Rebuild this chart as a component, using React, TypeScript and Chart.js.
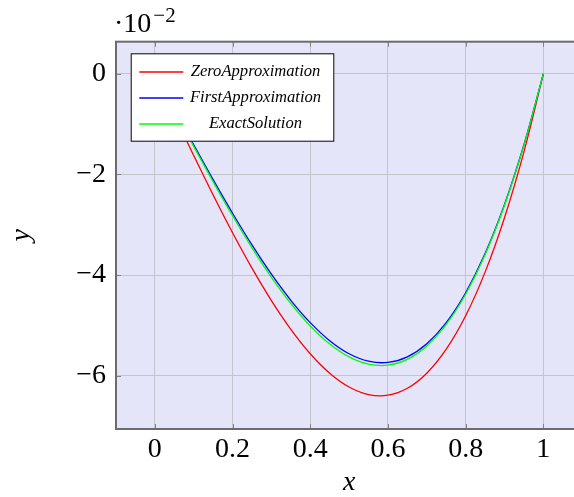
import React, { useEffect, useRef } from 'react';
import { Chart, registerables } from 'chart.js';

Chart.register(...registerables);

// ---- data (values in units of 10^-2) ----
const xValues = [0, 0.05, 0.1, 0.15, 0.2, 0.25, 0.3, 0.35, 0.4, 0.45, 0.5, 0.55, 0.6, 0.65, 0.7, 0.75, 0.8, 0.85, 0.9, 0.95, 1];
const zeroApproximation = [0, -0.816, -1.623, -2.408, -3.159, -3.863, -4.507, -5.078, -5.564, -5.95, -6.225, -6.375, -6.388, -6.251, -5.951, -5.474, -4.809, -3.941, -2.859, -1.55, 0];
const firstApproximation = [0, -0.705, -1.41, -2.103, -2.77, -3.401, -3.982, -4.501, -4.946, -5.304, -5.564, -5.712, -5.736, -5.625, -5.365, -4.945, -4.351, -3.573, -2.596, -1.409, 0];
const exactSolution = [0, -0.722, -1.44, -2.144, -2.821, -3.458, -4.044, -4.565, -5.011, -5.369, -5.626, -5.771, -5.791, -5.675, -5.409, -4.982, -4.381, -3.595, -2.61, -1.416, 0];

const seriesNames = ['ZeroApproximation', 'FirstApproximation', 'ExactSolution'];
const seriesColors = ['#ff0000', '#0000ff', '#00ff00'];

const xTicks = [0, 0.2, 0.4, 0.6, 0.8, 1];
const yTicks = [0, -2, -4, -6];
const xLabel = 'x';
const yLabel = 'y';
const scaleBase = '\u00B710';
const scaleExp = '\u22122';

const SERIF = '"Liberation Serif", "Times New Roman", serif';
const BG = 'rgb(229,229,250)';

const fmt = (v: number) => String(v).replace('-', '\u2212');

const pgfPlugin = {
  id: 'pgfStyle',
  beforeDraw(chart: any) {
    const { ctx, chartArea: a } = chart;
    ctx.save();
    ctx.fillStyle = BG;
    ctx.fillRect(a.left, a.top, a.right - a.left, a.bottom - a.top);
    ctx.restore();
  },
  afterDatasetsDraw(chart: any) {
    const { ctx, chartArea: a, scales } = chart;
    ctx.save();
    // tick marks (inside)
    ctx.strokeStyle = '#808080';
    ctx.lineWidth = 1;
    ctx.beginPath();
    xTicks.forEach((v) => {
      const px = Math.round(scales.x.getPixelForValue(v)) + 0.5;
      ctx.moveTo(px, a.bottom);
      ctx.lineTo(px, a.bottom - 5);
      ctx.moveTo(px, a.top);
      ctx.lineTo(px, a.top + 5);
    });
    yTicks.forEach((v) => {
      const py = Math.round(scales.y.getPixelForValue(v)) + 0.5;
      ctx.moveTo(a.left, py);
      ctx.lineTo(a.left + 5, py);
    });
    ctx.stroke();

    // frame
    ctx.strokeStyle = '#6c6c6c';
    ctx.lineWidth = 2;
    ctx.strokeRect(a.left, a.top, a.right - a.left, a.bottom - a.top);

    // legend
    const lx = a.left + 14.7;
    const ly = a.top + 11.6;
    const lw = 203.6;
    const lh = 88.4;
    ctx.fillStyle = '#ffffff';
    ctx.fillRect(lx, ly, lw, lh);
    ctx.strokeStyle = '#000000';
    ctx.lineWidth = 1;
    ctx.strokeRect(lx + 0.5, ly + 0.5, lw - 1, lh - 1);
    ctx.font = `italic 16.6px ${SERIF}`;
    ctx.textAlign = 'center';
    ctx.textBaseline = 'alphabetic';
    seriesNames.forEach((name, i) => {
      const y = ly + 18.7 + i * 26;
      ctx.strokeStyle = seriesColors[i];
      ctx.lineWidth = 1.3;
      ctx.beginPath();
      ctx.moveTo(lx + 8.6, y);
      ctx.lineTo(lx + 52.6, y);
      ctx.stroke();
      ctx.fillStyle = '#000000';
      ctx.fillText(name, lx + 124.8, y + 3.5);
    });

    // scale label  ·10^-2
    ctx.fillStyle = '#000000';
    ctx.textAlign = 'left';
    ctx.textBaseline = 'alphabetic';
    ctx.font = `28px ${SERIF}`;
    ctx.fillText(scaleBase, a.left - 2, 32.3);
    const w = ctx.measureText(scaleBase).width;
    ctx.font = `21px ${SERIF}`;
    ctx.fillText(scaleExp, a.left - 2 + w + 2, 21.7);
    ctx.restore();
  },
};

export default function App() {
  const canvasRef = useRef<HTMLCanvasElement>(null);

  useEffect(() => {
    const canvas = canvasRef.current;
    if (!canvas) return;
    const mk = (ys: number[]) => xValues.map((x, i) => ({ x, y: ys[i] }));
    const seriesData = [zeroApproximation, firstApproximation, exactSolution];
    const chart = new Chart(canvas, {
      type: 'line',
      data: {
        datasets: seriesNames.map((name, i) => ({
          label: name,
          data: mk(seriesData[i]),
          borderColor: seriesColors[i],
          backgroundColor: seriesColors[i],
          borderWidth: 1.3,
          pointRadius: 0,
          fill: false,
          tension: 0.4,
          order: 3 - i,
        })),
      },
      options: {
        animation: false,
        responsive: false,
        devicePixelRatio: 1,
        layout: { padding: { left: 0, top: 41.7, right: 7.8, bottom: 0 } },
        plugins: {
          legend: { display: false },
          tooltip: { enabled: false },
        },
        scales: {
          x: {
            type: 'linear',
            min: -0.1,
            max: 1.1,
            afterBuildTicks: (s: any) => {
              s.ticks = xTicks.map((v) => ({ value: v }));
            },
            afterFit: (s: any) => {
              s.height = 68;
            },
            grid: { color: 'rgb(196,196,204)', lineWidth: 1, drawTicks: false },
            border: { display: false },
            ticks: {
              padding: 3.5,
              color: '#000',
              font: { family: SERIF, size: 28 },
              callback: (v: any) => fmt(Number(v)),
              maxRotation: 0,
              autoSkip: false,
            },
            title: {
              display: true,
              text: xLabel,
              color: '#000',
              font: { family: SERIF, size: 28, style: 'italic', lineHeight: 1 },
              padding: { top: 0, bottom: 0 },
            },
          },
          y: {
            type: 'linear',
            min: -7.06,
            max: 0.64,
            afterBuildTicks: (s: any) => {
              s.ticks = yTicks.map((v) => ({ value: v }));
            },
            afterFit: (s: any) => {
              s.width = 116;
            },
            grid: { color: 'rgb(196,196,204)', lineWidth: 1, drawTicks: false },
            border: { display: false },
            ticks: {
              padding: 10,
              color: '#000',
              font: { family: SERIF, size: 28 },
              callback: (v: any) => fmt(Number(v)),
              autoSkip: false,
            },
            title: {
              display: true,
              text: yLabel,
              color: '#000',
              font: { family: SERIF, size: 28, style: 'italic', lineHeight: 1 },
              padding: { top: 8, bottom: 0 },
            },
          },
        },
      },
      plugins: [pgfPlugin],
    } as any);
    return () => chart.destroy();
  }, []);

  return (
    <div style={{ position: 'fixed', left: 0, top: 0, width: 574, height: 497, overflow: 'hidden', background: '#fff' }}>
      <canvas ref={canvasRef} width={590} height={497} style={{ display: 'block' }} />
    </div>
  );
}
